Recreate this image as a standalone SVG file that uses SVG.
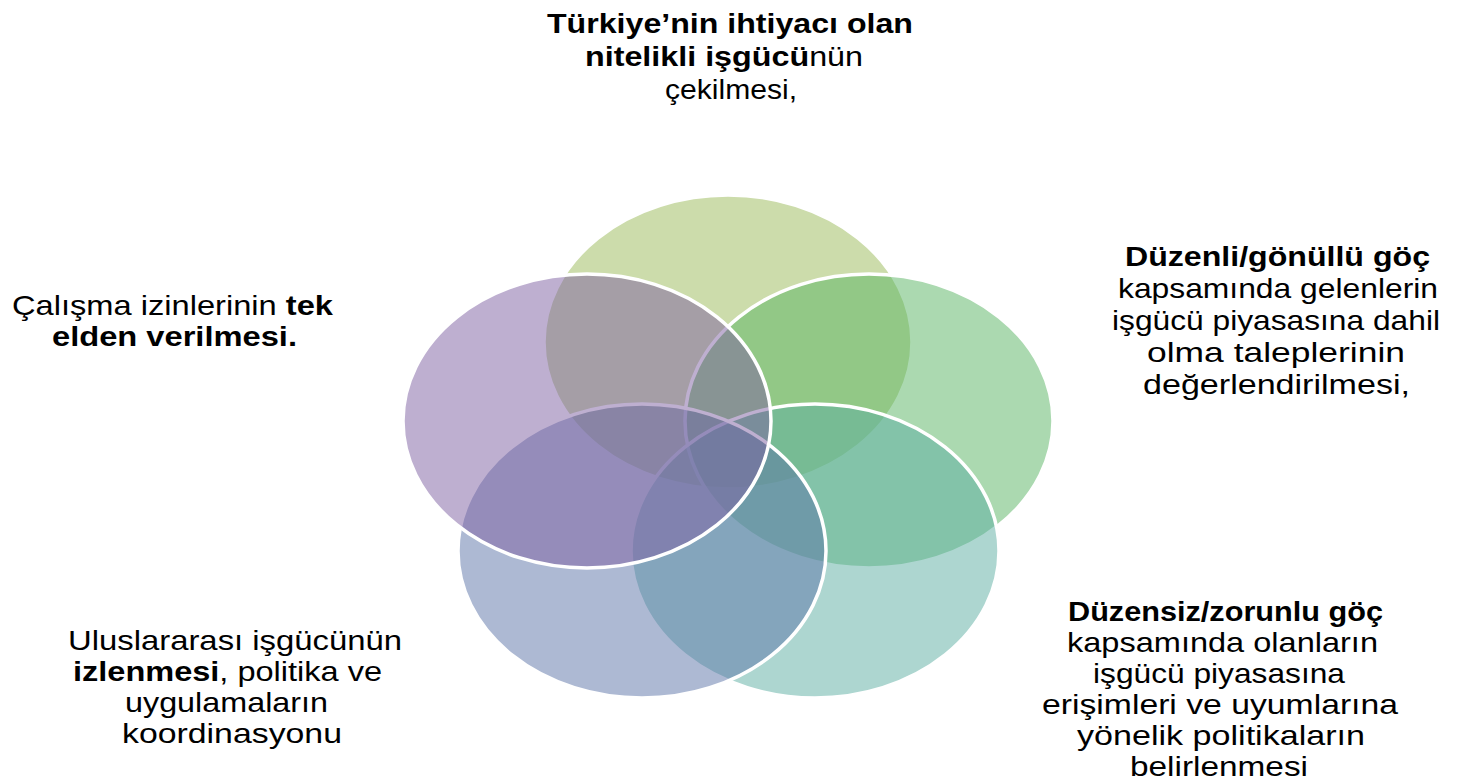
<svg xmlns="http://www.w3.org/2000/svg" width="1458" height="784" viewBox="0 0 1458 784">
<style>
.c{fill-opacity:0.5;stroke:#ffffff;stroke-width:3.5}
.t{font-family:"Liberation Sans","Open Sans",Arial,sans-serif;font-size:27.5px;fill:#000000}
.b{font-weight:bold}
</style>
<rect x="0" y="0" width="1458" height="784" fill="#ffffff"/>
<g id="circles">
<g id="node-top"><ellipse class="c" cx="728" cy="342" rx="184" ry="147" fill="#99B957"/></g>
<g id="node-right"><ellipse class="c" cx="869" cy="421" rx="184" ry="147" fill="#57B361"/></g>
<g id="node-bottom-right"><ellipse class="c" cx="815" cy="551" rx="184" ry="147" fill="#5BADA1"/></g>
<g id="node-bottom-left"><ellipse class="c" cx="642" cy="551" rx="184" ry="147" fill="#5B73A7"/></g>
<g id="node-left"><ellipse class="c" cx="587" cy="421" rx="184" ry="147" fill="#7D5FA1"/></g>
</g>
<g id="label-top" class="t">
<text x="547" y="33" textLength="366" lengthAdjust="spacingAndGlyphs" class="b">Türkiye’nin ihtiyacı olan</text>
<text x="585" y="66" textLength="278" lengthAdjust="spacingAndGlyphs"><tspan class="b">nitelikli işgücü</tspan>nün</text>
<text x="665" y="99" textLength="132" lengthAdjust="spacingAndGlyphs">çekilmesi,</text>
</g>
<g id="label-right" class="t">
<text x="1125" y="266" textLength="305" lengthAdjust="spacingAndGlyphs" class="b">Düzenli/gönüllü göç</text>
<text x="1118" y="298" textLength="320" lengthAdjust="spacingAndGlyphs">kapsamında gelenlerin</text>
<text x="1112" y="330" textLength="328" lengthAdjust="spacingAndGlyphs">işgücü piyasasına dahil</text>
<text x="1147" y="362" textLength="258" lengthAdjust="spacingAndGlyphs">olma taleplerinin</text>
<text x="1143" y="394" textLength="267" lengthAdjust="spacingAndGlyphs">değerlendirilmesi,</text>
</g>
<g id="label-left" class="t">
<text x="12" y="315" textLength="321" lengthAdjust="spacingAndGlyphs">Çalışma izinlerinin <tspan class="b">tek</tspan></text>
<text x="52" y="346" textLength="245" lengthAdjust="spacingAndGlyphs" class="b">elden verilmesi.</text>
</g>
<g id="label-bottom-left" class="t">
<text x="68" y="650" textLength="334" lengthAdjust="spacingAndGlyphs">Uluslararası işgücünün</text>
<text x="73" y="681" textLength="309" lengthAdjust="spacingAndGlyphs"><tspan class="b">izlenmesi</tspan>, politika ve</text>
<text x="125" y="712" textLength="203" lengthAdjust="spacingAndGlyphs">uygulamaların</text>
<text x="122" y="743" textLength="220" lengthAdjust="spacingAndGlyphs">koordinasyonu</text>
</g>
<g id="label-bottom-right" class="t">
<text x="1068" y="621" textLength="315" lengthAdjust="spacingAndGlyphs" class="b">Düzensiz/zorunlu göç</text>
<text x="1067" y="652" textLength="311" lengthAdjust="spacingAndGlyphs">kapsamında olanların</text>
<text x="1093" y="683" textLength="252" lengthAdjust="spacingAndGlyphs">işgücü piyasasına</text>
<text x="1042" y="714" textLength="356" lengthAdjust="spacingAndGlyphs">erişimleri ve uyumlarına</text>
<text x="1077" y="745" textLength="288" lengthAdjust="spacingAndGlyphs">yönelik politikaların</text>
<text x="1130" y="776" textLength="178" lengthAdjust="spacingAndGlyphs">belirlenmesi</text>
</g>
</svg>
